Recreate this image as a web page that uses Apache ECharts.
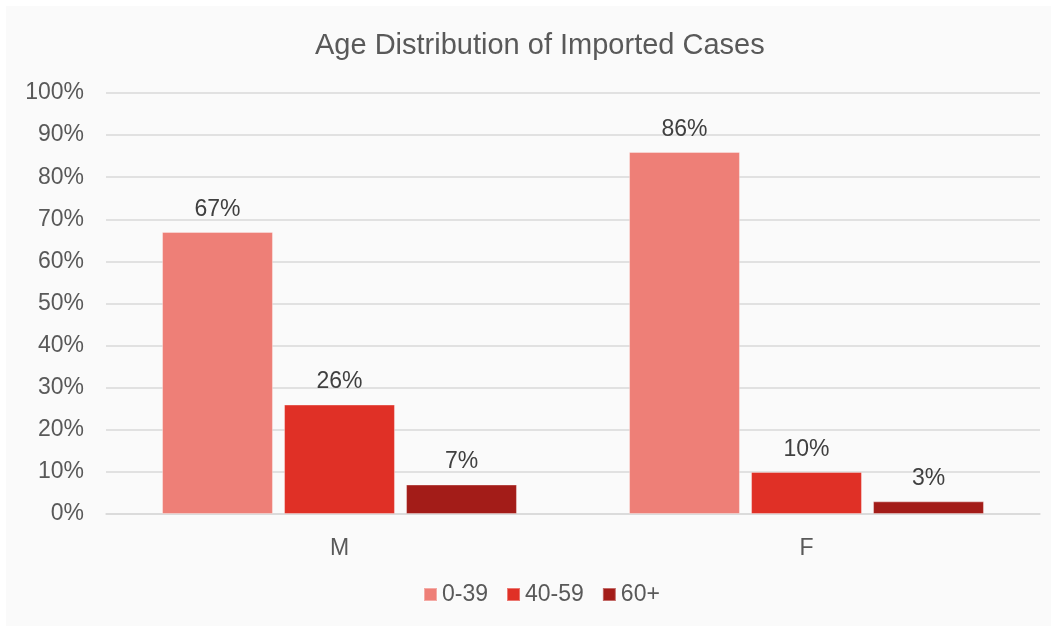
<!DOCTYPE html>
<html>
<head>
<meta charset="utf-8">
<script src="https://cdn.jsdelivr.net/npm/echarts@6/dist/echarts.min.js"></script>
<style>
html,body{margin:0;padding:0;background:#ffffff;}
#chart{width:1051px;height:626px;}
</style>
</head>
<body>
<div id="chart"></div>
<script>
const categories = ['M', 'F'];
const seriesNames = ['0-39', '40-59', '60+'];
const values0_39 = [67, 86];
const values40_59 = [26, 10];
const values60plus = [7, 3];
const colors = ['#ee7f77', '#e03026', '#a31c18'];

const allValues = [values0_39, values40_59, values60plus];
const chart = echarts.init(document.getElementById('chart'), null, {renderer: 'canvas'});
const fontFamily = 'Liberation Sans, Arial, sans-serif';

chart.setOption({
  backgroundColor: '#ffffff',
  animation: false,
  graphic: [{
    type: 'rect', z: -10, silent: true,
    shape: {x: 6, y: 6, width: 1045, height: 620},
    style: {fill: '#fafafa'}
  }],
  title: {
    text: 'Age Distribution of Imported Cases',
    left: 310, top: 26,
    textStyle: {fontFamily: fontFamily, fontSize: 29, fontWeight: 'normal', color: '#595959'}
  },
  legend: {
    data: seriesNames,
    bottom: 15, left: 418,
    itemWidth: 13, itemHeight: 13, itemGap: 18,
    icon: 'rect',
    textStyle: {fontFamily: fontFamily, fontSize: 23, color: '#595959'}
  },
  grid: {left: 106, right: 11, top: 93, bottom: 112, containLabel: false},
  xAxis: {
    type: 'category', data: categories,
    axisLine: {show: true, lineStyle: {color: '#d9d9d9', width: 1.5}},
    axisTick: {show: false},
    axisLabel: {fontFamily: fontFamily, fontSize: 23, color: '#595959', margin: 23}
  },
  yAxis: {
    type: 'value', min: 0, max: 100, interval: 10,
    axisLine: {show: false}, axisTick: {show: false},
    axisLabel: {fontFamily: fontFamily, fontSize: 23, color: '#595959', margin: 22, formatter: '{value}%'},
    splitLine: {lineStyle: {color: '#d9d9d9', width: 1.5}}
  },
  series: seriesNames.map((name, i) => ({
    name: name, type: 'bar', data: allValues[i],
    barGap: '10%', barCategoryGap: '24%',
    itemStyle: {color: colors[i], borderColor: 'rgba(255,255,255,0.35)', borderWidth: 1},
    label: {show: true, position: 'top', distance: 11, formatter: '{c}%',
      fontFamily: fontFamily, fontSize: 23, color: '#404040'}
  }))
});
</script>
</body>
</html>
